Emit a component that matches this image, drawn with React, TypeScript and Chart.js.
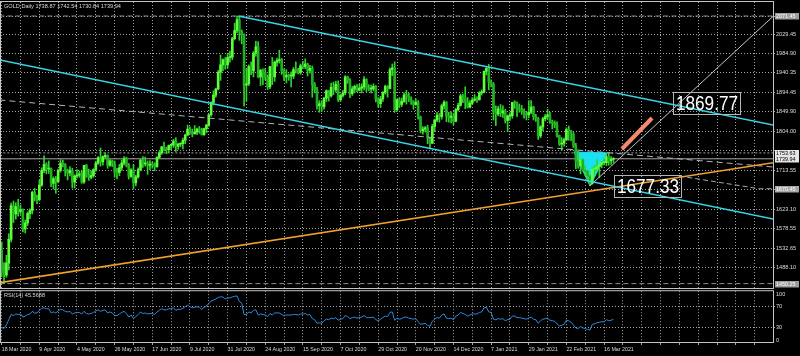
import React, { useEffect, useRef } from 'react';
import { Chart, registerables } from 'chart.js';

Chart.register(...registerables);

// ---------------- data ----------------
const SYMBOL = 'GOLD';
const PERIOD = 'Daily';
const FIRST_OPEN = 1527;

const highs = [
  1547, 1499, 1516, 1566, 1637, 1642, 1638, 1646, 1633, 1624,
  1598, 1617, 1624, 1665, 1671, 1656, 1690, 1719, 1747, 1731,
  1735, 1719, 1698, 1699, 1716, 1738, 1737, 1729, 1716, 1722,
  1718, 1703, 1715, 1712, 1711, 1725, 1727, 1716, 1712, 1717,
  1734, 1745, 1765, 1747, 1754, 1749, 1738, 1737, 1735, 1718,
  1727, 1737, 1745, 1744, 1729, 1717, 1727, 1702, 1719, 1739,
  1745, 1744, 1735, 1736, 1733, 1731, 1745, 1757, 1768, 1779,
  1767, 1772, 1774, 1785, 1789, 1776, 1777, 1788, 1797, 1818,
  1814, 1809, 1817, 1811, 1815, 1811, 1811, 1820, 1843, 1872,
  1898, 1904, 1945, 1981, 1972, 1975, 1984, 1990, 2022, 2055,
  2071.45, 2069, 2039, 2030, 1949, 1958, 1965, 1989, 2013, 2012,
  1947, 1949, 1950, 1935, 1954, 1975, 1967, 1974, 1992, 1973,
  1949, 1947, 1937, 1942, 1952, 1965, 1950, 1960, 1966, 1972,
  1962, 1957, 1955, 1917, 1906, 1875, 1875, 1882, 1900, 1899,
  1916, 1918, 1920, 1921, 1890, 1899, 1933, 1932, 1926, 1908,
  1911, 1912, 1913, 1914, 1931, 1926, 1912, 1911, 1914, 1910,
  1882, 1885, 1896, 1911, 1910, 1951, 1960, 1965, 1879, 1882,
  1881, 1893, 1899, 1892, 1884, 1875, 1879, 1875, 1839, 1815,
  1815, 1818, 1790, 1820, 1832, 1848, 1845, 1867, 1875, 1873,
  1848, 1849, 1846, 1857, 1869, 1890, 1890, 1907, 1882, 1875,
  1882, 1889, 1884, 1896, 1900, 1944, 1952, 1959, 1923, 1917,
  1863, 1862, 1866, 1863, 1855, 1842, 1847, 1871, 1875, 1872,
  1867, 1864, 1856, 1850, 1875, 1875, 1862, 1843, 1836, 1817,
  1836, 1843, 1855, 1848, 1830, 1828, 1826, 1795, 1789, 1788,
  1812, 1816, 1806, 1801, 1776, 1758, 1740, 1740, 1724, 1714,
  1703, 1720, 1725, 1739, 1727, 1734, 1740, 1750, 1753.63, 1745,
  1742.54,
];

const lows = [
  1466, 1450.25, 1465, 1482, 1547, 1592, 1600, 1607, 1611, 1570,
  1568, 1585, 1601, 1612, 1642, 1636, 1642, 1676, 1708, 1705,
  1706, 1675, 1670, 1660, 1684, 1709, 1721, 1700, 1691, 1700,
  1672, 1672, 1695, 1697, 1683, 1683, 1697, 1690, 1693, 1697,
  1711, 1727, 1723, 1725, 1741, 1718, 1722, 1722, 1697, 1693,
  1701, 1713, 1725, 1721, 1693, 1697, 1670, 1677, 1695, 1712,
  1720, 1723, 1704, 1715, 1718, 1712, 1720, 1740, 1750, 1758,
  1752, 1754, 1761, 1766, 1757, 1762, 1768, 1763, 1775, 1794,
  1797, 1791, 1797, 1796, 1799, 1795, 1794, 1801, 1815, 1839,
  1865, 1883, 1900, 1922, 1944, 1948, 1950, 1964, 1970, 2016,
  2032, 2015, 2007, 1862, 1874, 1910, 1935, 1930, 1978, 1928,
  1910, 1912, 1923, 1901, 1903, 1912, 1920, 1955, 1962, 1936,
  1922, 1916, 1922, 1907, 1926, 1939, 1937, 1936, 1949, 1949,
  1932, 1939, 1883, 1893, 1855, 1848, 1850, 1855, 1873, 1874,
  1883, 1889, 1895, 1873, 1873, 1883, 1889, 1915, 1882, 1887,
  1893, 1896, 1898, 1893, 1900, 1896, 1898, 1893, 1898, 1872,
  1860, 1859, 1873, 1890, 1883, 1902, 1933, 1848, 1850, 1859,
  1861, 1871, 1867, 1873, 1866, 1855, 1864, 1832, 1800, 1797,
  1802, 1775, 1765, 1775, 1805, 1826, 1825, 1832, 1855, 1826,
  1825, 1823, 1819, 1826, 1851, 1862, 1870, 1856, 1858, 1858,
  1866, 1874, 1871, 1876, 1888, 1893, 1935, 1900, 1907, 1830,
  1817, 1840, 1838, 1836, 1823, 1803, 1829, 1834, 1857, 1838,
  1848, 1843, 1834, 1830, 1835, 1845, 1830, 1827, 1785, 1789,
  1805, 1828, 1832, 1822, 1809, 1812, 1790, 1771, 1760, 1769,
  1782, 1783, 1782, 1766, 1717, 1718, 1705, 1711, 1701, 1688,
  1677.33, 1681, 1704, 1713, 1696, 1719, 1726, 1724, 1725, 1727,
  1730.84,
];

const closes = [
  1477, 1470, 1498, 1553, 1631, 1612, 1629, 1617, 1622, 1577,
  1591, 1613, 1620, 1662, 1648, 1645, 1679, 1713, 1727, 1716,
  1717, 1683, 1694, 1687, 1713, 1730, 1727, 1713, 1707, 1713,
  1686, 1700, 1702, 1705, 1686, 1725, 1702, 1697, 1701, 1715,
  1730, 1743, 1733, 1745, 1748, 1725, 1735, 1728, 1709, 1708,
  1719, 1730, 1740, 1726, 1699, 1714, 1684, 1698, 1715, 1737,
  1728, 1730, 1725, 1727, 1726, 1722, 1743, 1754, 1768, 1762,
  1761, 1771, 1772, 1781, 1769, 1774, 1775, 1783, 1795, 1809,
  1803, 1798, 1802, 1809, 1807, 1796, 1810, 1818, 1842, 1871,
  1888, 1902, 1941, 1958, 1970, 1958, 1975, 1976, 2019, 2038,
  2063, 2035, 2028, 1911, 1914, 1954, 1944, 1985, 2000, 1930,
  1946, 1940, 1929, 1907, 1954, 1930, 1964, 1968, 1970, 1944,
  1930, 1934, 1932, 1932, 1947, 1945, 1940, 1956, 1954, 1960,
  1945, 1950, 1912, 1900, 1863, 1868, 1861, 1881, 1898, 1886,
  1906, 1900, 1913, 1877, 1887, 1893, 1930, 1922, 1891, 1902,
  1908, 1899, 1904, 1907, 1924, 1904, 1902, 1902, 1908, 1878,
  1868, 1879, 1894, 1908, 1903, 1947, 1951, 1854, 1877, 1866,
  1873, 1888, 1887, 1880, 1872, 1866, 1871, 1837, 1805, 1809,
  1812, 1788, 1776, 1815, 1830, 1841, 1838, 1863, 1871, 1839,
  1836, 1839, 1827, 1854, 1864, 1886, 1881, 1872, 1860, 1869,
  1876, 1879, 1877, 1893, 1895, 1943, 1950, 1918, 1913, 1849,
  1844, 1856, 1846, 1851, 1829, 1839, 1840, 1871, 1870, 1856,
  1855, 1850, 1844, 1842, 1848, 1860, 1838, 1834, 1793, 1814,
  1833, 1838, 1842, 1826, 1823, 1819, 1794, 1774, 1776, 1784,
  1808, 1805, 1797, 1770, 1734, 1723, 1738, 1713, 1711, 1700,
  1683, 1716, 1716, 1722, 1727, 1731, 1731, 1745, 1735, 1738.87,
  1739.94,
];

const rsiValues = [
  30, 28, 35, 45, 55, 53, 56, 55, 56, 50,
  52, 55, 56, 61, 58, 58, 63, 67, 68, 66,
  66, 58, 60, 58, 62, 65, 64, 61, 60, 61,
  56, 58, 59, 59, 56, 61, 57, 56, 57, 59,
  62, 64, 61, 63, 64, 58, 60, 58, 53, 53,
  56, 59, 61, 57, 50, 54, 47, 51, 55, 60,
  57, 58, 56, 57, 57, 55, 60, 63, 66, 64,
  64, 66, 66, 68, 63, 65, 65, 67, 70, 73,
  70, 68, 69, 70, 69, 65, 69, 71, 76, 81,
  83, 85, 88, 89, 89, 85, 87, 87, 89, 90,
  91, 80, 77, 55, 55, 60, 58, 63, 64, 54,
  56, 55, 54, 51, 57, 54, 58, 58, 58, 55,
  53, 54, 54, 54, 55, 55, 54, 56, 56, 57,
  54, 55, 47, 45, 38, 39, 38, 43, 46, 45,
  48, 47, 49, 44, 46, 47, 53, 51, 47, 49,
  50, 48, 49, 50, 53, 49, 49, 49, 50, 45,
  43, 46, 49, 52, 51, 59, 60, 44, 48, 46,
  47, 50, 50, 48, 47, 46, 47, 41, 36, 37,
  38, 34, 32, 42, 46, 49, 48, 54, 56, 48,
  47, 48, 45, 52, 54, 59, 57, 55, 52, 54,
  56, 56, 56, 59, 60, 68, 69, 60, 59, 46,
  45, 47, 46, 47, 43, 45, 46, 52, 52, 49,
  49, 48, 47, 46, 48, 50, 46, 45, 38, 43,
  46, 47, 48, 44, 43, 42, 37, 33, 34, 36,
  44, 43, 40, 35, 29, 28, 32, 29, 28, 26,
  25, 36, 37, 39, 40, 41, 41, 45, 43, 44,
  45.5688,
];

const dateLabels = [
  '18 Mar 2020', '9 Apr 2020', '4 May 2020', '26 May 2020', '17 Jun 2020',
  '9 Jul 2020', '31 Jul 2020', '24 Aug 2020', '15 Sep 2020', '7 Oct 2020',
  '29 Oct 2020', '20 Nov 2020', '14 Dec 2020', '7 Jan 2021', '29 Jan 2021',
  '22 Feb 2021', '16 Mar 2021',
];
const BARS_PER_LABEL = 16;
const BARS_PER_GRID = 8;

const priceGrid = [2071.45, 2029.45, 1984.9, 1940.35, 1894.45, 1849.9, 1804.0, 1758.5, 1713.55, 1668.3, 1623.1, 1578.55, 1532.65, 1488.1];
const priceGridLabels = ['', '2029.45', '1984.90', '1940.35', '1894.45', '1849.90', '1804.00', '', '1713.55', '', '1623.10', '1578.55', '1532.65', '1488.10'];

const rsiTickValues = [5, 30, 70, 94.6];
const rsiTickLabels = ['0', '30', '70', '100'];
const rsiLevels = [30, 70];

// horizontal price lines (value) and their axis tags
const lineHigh = 2071.45;
const lineResist = 1753.63;
const lineBid = 1739.94;
const lineSupport = 1670.45;
const lineLow = 1450.25;

// drawn objects, in (bar index, price) coordinates
const upperChannel = [{ x: 100.5, y: 2071.45 }, { x: 328, y: 1818.3 }];
const lowerChannel = [{ x: -1, y: 1969.6 }, { x: 328, y: 1600.0 }];
const midTrend = [{ x: -1, y: 1876.5 }, { x: 328, y: 1720.8 }];
const orangeTrend = [{ x: -1, y: 1452.2 }, { x: 328, y: 1731.1 }];
const projection = [{ x: 250, y: 1677.33 }, { x: 328, y: 2071.45 }];
const arrowSeg = [{ x: 263.6, y: 1762.7 }, { x: 276.4, y: 1834.7 }];
const supportSeg = [{ x: 288, y: 1700.0 }, { x: 322, y: 1670.45 }, { x: 328, y: 1670.45 }];
const patternShape = [
  { x: 243.2, y: 1755.8 }, { x: 257.3, y: 1753.4 }, { x: 250, y: 1677.33 }, { x: 243.2, y: 1755.8 },
];
const priceLabels = [
  { x: 285.3, y: 1869.77 },
  { x: 260.2, y: 1677.33 },
];

// ---------------- styles / layout ----------------
const FONT = '"Liberation Sans", Arial, sans-serif';
const GRID = '#a2a2a2';
const FRAME = '#c4c4c4';
const TEXT = '#dadada';
const X_MIN = -1.7 / 2.353;
const X_MAX = (773 - 1.7) / 2.353;
const Y_MIN = 2071.45 - 273 * 2.3213;
const Y_MAX = 2071.45 + 14 * 2.3213;

const opens = closes.map((c, i) => (i === 0 ? FIRST_OPEN : closes[i - 1]));
const gridBars: number[] = [];
for (let b = 0; b <= X_MAX; b += BARS_PER_GRID) gridBars.push(b);

const hLine = (v: number) => [{ x: -1, y: v }, { x: 328, y: v }];

const axisTags = [
  { v: lineHigh, bg: '#9c9c9c', fg: '#ffffff' },
  { v: lineResist, bg: '#e6e6e6', fg: '#000000' },
  { v: lineBid, bg: '#e6e6e6', fg: '#000000' },
  { v: lineSupport, bg: '#a8a8a8', fg: '#ffffff' },
  { v: lineLow, bg: '#9c9c9c', fg: '#ffffff' },
];

const mainDecor = {
  id: 'mainDecor',
  afterDraw(chart: any) {
    const { ctx, chartArea: a, scales } = chart;
    const x = scales.x;
    const y = scales.y;
    ctx.save();
    ctx.strokeStyle = FRAME;
    ctx.lineWidth = 1;
    ctx.strokeRect(a.left + 0.5, a.top - 0.5, a.right - a.left, a.bottom - a.top);

    const n = closes.length - 1;
    ctx.font = `5.6px ${FONT}`;
    ctx.fillStyle = TEXT;
    ctx.textBaseline = 'middle';
    ctx.textAlign = 'left';
    ctx.fillText(
      `${SYMBOL},${PERIOD} ${opens[n].toFixed(2)} ${highs[n].toFixed(2)} ${lows[n].toFixed(2)} ${closes[n].toFixed(2)}`,
      4, 6.5,
    );

    axisTags.forEach((t) => {
      const py = y.getPixelForValue(t.v);
      ctx.fillStyle = t.bg;
      ctx.fillRect(a.right + 2, Math.round(py) - 3, 24, 6.5);
      ctx.fillStyle = t.fg;
      ctx.font = `5.4px ${FONT}`;
      ctx.fillText(t.v.toFixed(2), a.right + 3, Math.round(py) + 0.3);
    });

    priceLabels.forEach((l) => {
      const px = x.getPixelForValue(l.x);
      const py = y.getPixelForValue(l.y) + 0.5;
      ctx.strokeStyle = '#b5b5b5';
      ctx.lineWidth = 1;
      ctx.strokeRect(Math.round(px) + 0.5, Math.round(py - 11) + 0.5, 67, 22);
      ctx.save();
      ctx.translate(Math.round(px) + 34, py + 1);
      ctx.scale(0.86, 1);
      ctx.font = `20px ${FONT}`;
      ctx.fillStyle = '#ffffff';
      ctx.textAlign = 'center';
      ctx.textBaseline = 'middle';
      ctx.fillText(l.y.toFixed(2), 0, 0);
      ctx.restore();
    });
    ctx.restore();
  },
};

const rsiDecor = {
  id: 'rsiDecor',
  afterDraw(chart: any) {
    const { ctx, chartArea: a } = chart;
    ctx.save();
    ctx.strokeStyle = FRAME;
    ctx.lineWidth = 1;
    ctx.strokeRect(a.left + 0.5, a.top - 0.5, a.right - a.left, a.bottom - a.top);
    ctx.font = `5.6px ${FONT}`;
    ctx.fillStyle = TEXT;
    ctx.textBaseline = 'middle';
    ctx.textAlign = 'left';
    ctx.fillText(`RSI(14) ${rsiValues[rsiValues.length - 1].toFixed(4)}`, 4, 6.5);
    ctx.restore();
  },
};

const lineDs = (data: any[], color: string, width: number, order: number, dash: number[] = []) => ({
  type: 'line',
  data,
  borderColor: color,
  borderWidth: width,
  borderDash: dash,
  pointRadius: 0,
  fill: false,
  tension: 0,
  order,
});

export default function App() {
  const mainRef = useRef<HTMLCanvasElement>(null);
  const rsiRef = useRef<HTMLCanvasElement>(null);

  useEffect(() => {
    const wicks = highs.map((h, i) => ({ x: i, y: [lows[i], h] }));
    const bodies = closes.map((c, i) => ({ x: i, y: [opens[i], c] }));
    const bodyColors = closes.map((c, i) => (c >= opens[i] ? '#5cff3a' : '#22b022'));

    const main = new Chart(mainRef.current as HTMLCanvasElement, {
      type: 'bar',
      data: {
        datasets: [
          lineDs(hLine(lineHigh), '#8c8c8c', 1, 30, [5, 3]),
          lineDs(hLine(lineResist), '#a0a0a0', 1, 30, [2, 2]),
          lineDs(hLine(lineBid), '#a6a6a6', 1, 30),
          lineDs(hLine(lineLow), '#8c8c8c', 1, 30, [5, 3]),
          {
            type: 'line', data: patternShape, borderColor: '#19e0f2', backgroundColor: '#19e0f2',
            borderWidth: 1, pointRadius: 0, fill: 'shape', tension: 0, order: 25,
          },
          {
            type: 'bar', data: wicks, backgroundColor: '#2fd42a', barThickness: 1,
            grouped: false, minBarLength: 1, borderWidth: 0, order: 20,
          },
          {
            type: 'bar', data: bodies, backgroundColor: bodyColors, barThickness: 2,
            grouped: false, minBarLength: 1, borderWidth: 0, order: 19,
          },
          lineDs(midTrend, '#b4b4b4', 1, 6, [6, 4]),
          lineDs(supportSeg, '#a8a8a8', 1, 6, [5, 3]),
          lineDs(projection, '#c4c4c4', 1, 5),
          lineDs(orangeTrend, '#f0a030', 1.6, 4),
          lineDs(lowerChannel, '#36d6e6', 1.6, 3),
          lineDs(upperChannel, '#36d6e6', 1.6, 3),
          { ...lineDs(arrowSeg, '#f38a70', 4, 2), borderCapStyle: 'butt' },
        ] as any,
      },
      options: {
        responsive: false,
        animation: false,
        devicePixelRatio: 1,
        events: [],
        layout: { padding: { top: 2, left: 0, right: 0, bottom: 0 } },
        plugins: { legend: { display: false }, tooltip: { enabled: false } },
        scales: {
          x: {
            type: 'linear', min: X_MIN, max: X_MAX, offset: false,
            afterBuildTicks: (s: any) => { s.ticks = gridBars.map((v) => ({ value: v })); },
            afterFit: (s: any) => { s.height = 0; s.paddingLeft = 0; s.paddingRight = 0; },
            ticks: { display: false, autoSkip: false },
            grid: { color: GRID, drawTicks: false, offset: false, lineWidth: 1 },
            border: { display: false, dash: [1, 2] },
          },
          y: {
            type: 'linear', position: 'right', min: Y_MIN, max: Y_MAX,
            afterBuildTicks: (s: any) => { s.ticks = priceGrid.map((v) => ({ value: v })); },
            afterFit: (s: any) => { s.width = 27; s.paddingTop = 0; s.paddingBottom = 0; },
            ticks: {
              autoSkip: false, padding: 1, color: TEXT, font: { family: FONT, size: 5.6 },
              callback: (v: any) => {
                const k = priceGrid.findIndex((p) => Math.abs(p - v) < 0.01);
                return k >= 0 ? priceGridLabels[k] : '';
              },
            },
            grid: { color: GRID, drawTicks: true, tickLength: 2, lineWidth: 1 },
            border: { display: false, dash: [1, 2] },
          },
        },
      } as any,
      plugins: [mainDecor],
    });

    const rsi = new Chart(rsiRef.current as HTMLCanvasElement, {
      type: 'line',
      data: {
        datasets: [
          {
            data: rsiValues.map((v, i) => ({ x: i, y: v })),
            borderColor: '#3088dc', borderWidth: 1, pointRadius: 0, tension: 0, fill: false,
          },
        ],
      },
      options: {
        responsive: false,
        animation: false,
        devicePixelRatio: 1,
        events: [],
        layout: { padding: { top: 2.2, left: 0, right: 0, bottom: 0 } },
        plugins: { legend: { display: false }, tooltip: { enabled: false } },
        scales: {
          x: {
            type: 'linear', min: X_MIN, max: X_MAX, offset: false,
            afterBuildTicks: (s: any) => { s.ticks = gridBars.map((v) => ({ value: v })); },
            afterFit: (s: any) => { s.height = 13; s.paddingLeft = 0; s.paddingRight = 0; },
            ticks: {
              autoSkip: false, maxRotation: 0, minRotation: 0, align: 'start', padding: 1,
              color: TEXT, font: { family: FONT, size: 5.3 },
              callback: (v: any) => (v % BARS_PER_LABEL === 0 ? dateLabels[v / BARS_PER_LABEL] ?? '' : ''),
            },
            grid: { color: GRID, drawTicks: true, tickLength: 2, lineWidth: 1 },
            border: { display: false, dash: [1, 2] },
          },
          y: {
            type: 'linear', position: 'right', min: 0, max: 100,
            afterBuildTicks: (s: any) => { s.ticks = rsiTickValues.map((v) => ({ value: v })); },
            afterFit: (s: any) => { s.width = 27; s.paddingTop = 0; s.paddingBottom = 0; },
            ticks: {
              autoSkip: false, padding: 1, color: TEXT, font: { family: FONT, size: 5.6 },
              callback: (v: any) => {
                const k = rsiTickValues.findIndex((p) => Math.abs(p - v) < 0.01);
                return k >= 0 ? rsiTickLabels[k] : '';
              },
            },
            grid: {
              color: (c: any) => (c.tick && rsiLevels.includes(c.tick.value) ? GRID : 'rgba(0,0,0,0)'),
              drawTicks: true, tickLength: 2, lineWidth: 1,
            },
            border: { display: false, dash: [1, 2] },
          },
        },
      } as any,
      plugins: [rsiDecor],
    });

    return () => {
      main.destroy();
      rsi.destroy();
    };
  }, []);

  return (
    <div style={{ position: 'fixed', left: 0, top: 0, width: 800, height: 356, background: '#000', overflow: 'hidden' }}>
      <canvas ref={mainRef} width={800} height={289} style={{ position: 'absolute', left: 0, top: 0, width: 800, height: 289 }} />
      <canvas ref={rsiRef} width={800} height={67} style={{ position: 'absolute', left: 0, top: 289, width: 800, height: 67 }} />
    </div>
  );
}
